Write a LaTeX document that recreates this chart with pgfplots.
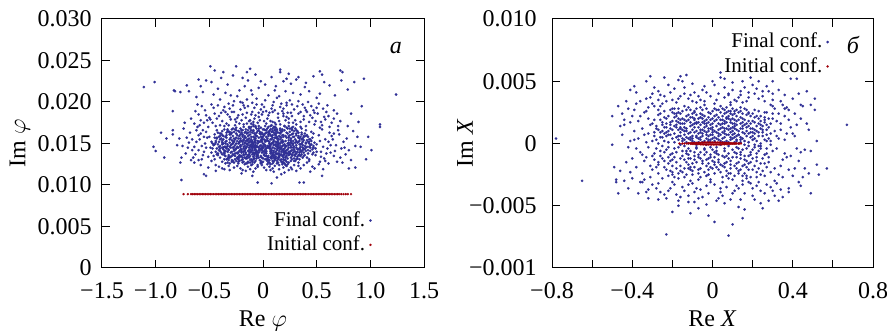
\documentclass[border=0pt]{standalone}
\usepackage{pgfplots}
\pgfplotsset{compat=1.18}
\usepackage{pgfplotstable}
\usepackage{fontspec}
\setmainfont{Liberation Serif}
\definecolor{fblue}{RGB}{48,48,150}
\definecolor{ired}{RGB}{160,0,10}

\pgfplotstableread[header=false]{
-0.12 0.0148
0.05 0.0153
0.21 0.0139
-0.31 0.0161
0.34 0.0144
-0.04 0.0171
0.17 0.0157
-0.22 0.0135
0.09 0.0129
-0.41 0.0152
0.27 0.0166
-0.08 0.0142
0.42 0.0158
-0.17 0.0163
0.01 0.0137
0.13 0.0146
-0.28 0.0145
0.31 0.0131
-0.36 0.0138
0.06 0.0162
-0.01 0.0155
0.24 0.0151
-0.14 0.0128
0.38 0.0139
-0.25 0.0169
0.11 0.0175
-0.47 0.0144
0.19 0.0133
-0.06 0.0159
0.45 0.0149
-0.33 0.0127
0.02 0.0146
0.29 0.0158
-0.19 0.0152
0.15 0.0124
-0.09 0.0134
0.36 0.0163
-0.43 0.0166
0.08 0.0141
-0.27 0.0156
0.22 0.0147
-0.02 0.0126
0.49 0.0136
-0.15 0.0174
0.12 0.0160
-0.38 0.0149
0.33 0.0152
-0.11 0.0140
0.04 0.0168
0.26 0.0129
-0.21 0.0143
0.40 0.0145
-0.05 0.0150
0.18 0.0165
-0.30 0.0134
0.07 0.0133
-0.16 0.0157
0.35 0.0170
-0.45 0.0131
0.14 0.0154
-0.07 0.0145
0.23 0.0143
-0.24 0.0160
0.00 0.0158
0.30 0.0137
-0.35 0.0158
0.10 0.0149
-0.13 0.0137
0.44 0.0141
-0.20 0.0130
0.16 0.0136
-0.03 0.0164
0.28 0.0148
-0.40 0.0141
0.03 0.0131
-0.26 0.0148
0.37 0.0133
-0.10 0.0153
0.20 0.0171
-0.32 0.0172
0.12 0.0140
-0.18 0.0146
0.25 0.0160
-0.50 0.0158
0.06 0.0144
-0.23 0.0139
0.41 0.0154
-0.06 0.0132
0.17 0.0128
-0.37 0.0145
0.32 0.0143
-0.12 0.0161
0.09 0.0157
-0.29 0.0130
0.21 0.0153
-0.01 0.0143
0.47 0.0162
-0.15 0.0150
0.13 0.0167
-0.42 0.0136
0.02 0.0152
-0.20 0.0166
0.27 0.0135
-0.08 0.0127
0.39 0.0147
-0.34 0.0153
0.15 0.0150
-0.04 0.0139
0.23 0.0125
-0.27 0.0141
0.08 0.0172
-0.14 0.0155
0.34 0.0156
-0.46 0.0148
0.18 0.0142
-0.09 0.0166
0.05 0.0135
-0.39 0.0162
0.29 0.0141
-0.19 0.0133
0.11 0.0131
-0.02 0.0148
0.43 0.0131
-0.31 0.0146
0.20 0.0144
-0.11 0.0131
0.01 0.0160
-0.24 0.0153
0.36 0.0150
-0.05 0.0124
0.26 0.0154
-0.17 0.0142
0.14 0.0138
-0.36 0.0131
0.07 0.0155
-0.22 0.0159
0.31 0.0162
-0.13 0.0145
0.19 0.0127
-0.48 0.0139
0.03 0.0141
-0.07 0.0156
0.24 0.0136
-0.28 0.0152
0.46 0.0143
-0.16 0.0137
0.10 0.0163
-0.33 0.0140
0.16 0.0147
-0.01 0.0133
0.38 0.0159
-0.21 0.0148
0.06 0.0127
-0.43 0.0157
0.28 0.0145
-0.10 0.0144
0.12 0.0152
-0.26 0.0135
0.22 0.0163
-0.03 0.0152
0.33 0.0136
-0.38 0.0165
0.09 0.0136
-0.18 0.0128
0.40 0.0166
-0.12 0.0135
0.17 0.0145
-0.30 0.0157
0.04 0.0147
-0.23 0.0145
0.29 0.0132
-0.06 0.0168
0.14 0.0156
-0.41 0.0146
0.24 0.0140
-0.15 0.0132
0.00 0.0140
-0.35 0.0150
0.35 0.0146
-0.09 0.0138
0.19 0.0160
-0.25 0.0144
0.11 0.0144
-0.02 0.0161
0.44 0.0155
-0.32 0.0136
0.07 0.0149
-0.19 0.0161
0.27 0.0150
-0.07 0.0129
0.15 0.0133
-0.44 0.0153
0.31 0.0153
-0.13 0.0151
0.02 0.0135
-0.27 0.0164
0.21 0.0130
-0.04 0.0145
0.37 0.0142
-0.20 0.0139
0.10 0.0139
-0.37 0.0143
0.25 0.0149
-0.11 0.0158
0.05 0.0159
-0.29 0.0149
0.32 0.0140
-0.16 0.0153
0.13 0.0126
-0.01 0.0152
0.42 0.0138
-0.23 0.0131
0.18 0.0154
-0.08 0.0147
0.08 0.0164
-0.34 0.0144
0.26 0.0141
-0.14 0.0141
0.03 0.0144
-0.40 0.0159
0.20 0.0137
-0.05 0.0135
0.30 0.0155
-0.21 0.0154
0.16 0.0162
-0.10 0.0125
0.48 0.0151
-0.03 0.0147
0.18 0.0151
-0.24 0.0138
0.32 0.0165
-0.14 0.0159
0.07 0.0138
-0.37 0.0155
0.26 0.0133
-0.08 0.0162
0.13 0.0143
-0.29 0.0167
0.40 0.0150
-0.19 0.0127
0.02 0.0166
0.22 0.0157
-0.45 0.0161
0.10 0.0128
-0.11 0.0149
0.35 0.0135
-0.32 0.0142
0.05 0.0170
-0.22 0.0152
0.29 0.0146
-0.05 0.0136
0.16 0.0168
-0.40 0.0133
0.45 0.0164
-0.16 0.0144
0.08 0.0150
-0.27 0.0127
0.21 0.0124
-0.01 0.0158
0.37 0.0156
-0.34 0.0160
0.12 0.0134
-0.09 0.0173
0.27 0.0161
-0.21 0.0156
0.00 0.0132
0.43 0.0146
-0.43 0.0144
0.15 0.0159
-0.12 0.0130
0.24 0.0145
-0.30 0.0139
0.06 0.0152
-0.06 0.0141
0.33 0.0127
-0.18 0.0170
0.19 0.0139
-0.38 0.0128
0.03 0.0138
0.50 0.0140
-0.25 0.0150
0.11 0.0166
-0.02 0.0144
0.30 0.0168
-0.48 0.0152
0.17 0.0131
-0.13 0.0156
0.23 0.0168
-0.35 0.0135
0.09 0.0145
-0.07 0.0151
0.38 0.0144
-0.23 0.0165
0.14 0.0148
-0.15 0.0134
0.01 0.0149
-0.31 0.0151
0.28 0.0139
-0.10 0.0163
0.20 0.0149
-0.42 0.0149
0.46 0.0157
-0.17 0.0151
0.07 0.0125
-0.04 0.0157
0.34 0.0149
-0.26 0.0131
0.16 0.0130
-0.20 0.0143
0.04 0.0156
-0.36 0.0167
0.25 0.0164
-0.08 0.0136
0.12 0.0169
-0.29 0.0140
0.41 0.0133
-0.14 0.0166
0.21 0.0134
-0.01 0.0139
0.31 0.0145
-0.46 0.0135
0.10 0.0154
-0.22 0.0129
0.18 0.0160
-0.11 0.0146
0.39 0.0162
-0.33 0.0149
0.06 0.0130
-0.05 0.0165
0.27 0.0142
-0.18 0.0137
0.14 0.0163
-0.39 0.0139
0.02 0.0143
0.22 0.0138
-0.28 0.0159
0.35 0.0158
-0.09 0.0149
0.11 0.0136
-0.24 0.0146
0.47 0.0147
-0.02 0.0169
0.17 0.0152
-0.16 0.0126
0.29 0.0129
-0.34 0.0157
0.08 0.0159
-0.12 0.0143
0.24 0.0171
-0.44 0.0140
0.13 0.0129
-0.06 0.0147
0.36 0.0140
-0.21 0.0168
0.00 0.0150
0.19 0.0143
-0.31 0.0126
0.42 0.0152
-0.10 0.0137
0.09 0.0168
-0.26 0.0155
0.26 0.0156
-0.03 0.0130
0.15 0.0141
-0.37 0.0150
0.32 0.0134
-0.15 0.0162
0.05 0.0146
-0.19 0.0149
0.20 0.0126
-0.07 0.0160
0.44 0.0145
-0.41 0.0158
0.12 0.0147
-0.23 0.0134
0.28 0.0153
-0.13 0.0169
0.03 0.0163
-0.30 0.0145
0.17 0.0137
-0.01 0.0127
0.37 0.0148
-0.17 0.0147
0.07 0.0147
-0.25 0.0162
0.23 0.0132
-0.08 0.0155
0.13 0.0156
-0.35 0.0141
0.31 0.0166
-0.11 0.0152
0.01 0.0167
-0.47 0.0150
0.21 0.0159
-0.20 0.0135
0.10 0.0133
-0.04 0.0142
0.34 0.0131
-0.28 0.0168
0.16 0.0143
-0.14 0.0148
0.40 0.0159
-0.33 0.0132
0.04 0.0134
-0.09 0.0158
0.26 0.0147
-0.22 0.0141
0.18 0.0167
-0.02 0.0154
0.49 0.0144
-0.38 0.0137
0.11 0.0161
-0.16 0.0164
0.30 0.0151
-0.06 0.0137
0.08 0.0142
-0.27 0.0143
0.24 0.0127
-0.12 0.0127
0.14 0.0152
-0.42 0.0163
0.38 0.0154
-0.19 0.0158
0.02 0.0139
-0.31 0.0164
0.19 0.0131
-0.07 0.0139
0.45 0.0153
-0.24 0.0132
0.06 0.0165
-0.10 0.0147
0.33 0.0159
-0.36 0.0146
0.15 0.0145
-0.01 0.0146
0.27 0.0169
-0.17 0.0133
0.09 0.0151
-0.45 0.0157
0.22 0.0142
-0.13 0.0140
0.04 0.0129
-0.29 0.0154
0.35 0.0142
-0.05 0.0153
0.12 0.0132
-0.21 0.0161
0.29 0.0136
-0.40 0.0144
0.17 0.0164
-0.09 0.0131
0.01 0.0155
-0.26 0.0138
0.42 0.0142
-0.15 0.0154
0.20 0.0140
-0.03 0.0162
0.25 0.0137
-0.34 0.0163
0.07 0.0140
-0.18 0.0140
0.36 0.0137
-0.11 0.0170
0.13 0.0137
-0.23 0.0150
0.31 0.0148
-0.49 0.0145
0.05 0.0161
-0.07 0.0143
0.18 0.0135
-0.32 0.0130
0.23 0.0150
-0.14 0.0136
0.10 0.0170
-0.02 0.0135
0.39 0.0136
-0.20 0.0153
0.14 0.0133
-0.38 0.0153
0.28 0.0162
-0.10 0.0142
0.03 0.0153
-0.25 0.0129
0.47 0.0139
-0.06 0.0163
0.16 0.0155
-0.29 0.0135
0.21 0.0147
-0.16 0.0145
0.08 0.0135
-0.43 0.0137
0.33 0.0163
-0.01 0.0163
0.12 0.0157
-0.22 0.0136
0.26 0.0151
-0.12 0.0153
0.00 0.0145
-0.35 0.0146
0.37 0.0152
-0.08 0.0145
0.19 0.0148
-0.27 0.0152
0.09 0.0126
-0.04 0.0168
0.30 0.0140
-0.40 0.0155
0.15 0.0136
-0.18 0.0155
0.06 0.0150
-0.13 0.0133
0.43 0.0150
-0.30 0.0161
0.24 0.0154
0.02 0.0131
-0.21 0.0146
0.13 0.0158
-0.09 0.0139
0.34 0.0144
-0.37 0.0159
-0.06 0.0146
0.14 0.0149
-0.20 0.0141
0.28 0.0158
-0.12 0.0164
0.03 0.0135
-0.33 0.0147
0.22 0.0135
-0.01 0.0156
0.10 0.0141
-0.25 0.0166
0.37 0.0145
-0.15 0.0126
0.05 0.0163
0.19 0.0152
-0.39 0.0156
0.08 0.0132
-0.09 0.0150
0.31 0.0138
-0.28 0.0137
0.02 0.0171
-0.18 0.0154
0.26 0.0145
-0.04 0.0133
0.13 0.0165
-0.36 0.0139
0.41 0.0160
-0.13 0.0142
0.06 0.0148
-0.23 0.0128
0.18 0.0127
0.00 0.0161
0.34 0.0153
-0.30 0.0162
0.09 0.0137
-0.07 0.0170
0.24 0.0159
-0.17 0.0159
-0.02 0.0134
0.39 0.0143
-0.40 0.0147
0.12 0.0162
-0.10 0.0129
0.21 0.0146
-0.27 0.0136
0.04 0.0154
-0.05 0.0139
0.30 0.0129
-0.16 0.0167
0.17 0.0140
-0.34 0.0131
0.01 0.0136
0.46 0.0137
-0.22 0.0151
0.09 0.0165
-0.03 0.0143
0.27 0.0167
-0.44 0.0151
0.15 0.0134
-0.11 0.0155
0.20 0.0166
-0.32 0.0134
0.07 0.0144
-0.08 0.0152
0.35 0.0141
-0.20 0.0163
0.12 0.0149
-0.14 0.0135
0.00 0.0147
-0.28 0.0150
0.25 0.0138
-0.09 0.0165
0.18 0.0147
-0.38 0.0151
0.43 0.0155
-0.15 0.0149
0.05 0.0127
-0.02 0.0158
0.32 0.0151
-0.24 0.0133
0.14 0.0131
-0.18 0.0144
0.03 0.0158
-0.33 0.0165
0.23 0.0162
-0.06 0.0134
0.11 0.0167
-0.26 0.0142
0.38 0.0135
-0.12 0.0168
0.19 0.0136
0.01 0.0141
0.29 0.0143
-0.42 0.0138
0.08 0.0155
-0.19 0.0131
0.16 0.0158
-0.10 0.0146
0.36 0.0161
-0.30 0.0148
0.04 0.0131
-0.04 0.0166
0.25 0.0140
-0.16 0.0139
0.12 0.0164
-0.36 0.0141
-0.01 0.0142
0.20 0.0139
-0.25 0.0157
0.33 0.0157
-0.07 0.0148
0.10 0.0135
-0.21 0.0147
0.44 0.0148
0.00 0.0167
0.16 0.0150
-0.14 0.0127
0.27 0.0131
-0.31 0.0155
0.07 0.0160
-0.11 0.0141
0.22 0.0169
-0.41 0.0142
0.11 0.0130
-0.05 0.0146
0.34 0.0139
-0.19 0.0166
0.02 0.0148
0.17 0.0144
-0.29 0.0128
0.40 0.0151
-0.08 0.0138
0.07 0.0167
-0.23 0.0156
0.24 0.0157
-0.02 0.0129
0.13 0.0142
-0.35 0.0152
0.30 0.0135
-0.13 0.0160
0.04 0.0145
-0.17 0.0150
0.18 0.0128
-0.06 0.0159
0.41 0.0146
-0.38 0.0160
0.10 0.0148
-0.21 0.0135
0.26 0.0152
-0.11 0.0166
0.02 0.0162
-0.27 0.0146
0.15 0.0138
0.00 0.0128
0.35 0.0149
-0.15 0.0146
0.06 0.0146
-0.22 0.0164
0.21 0.0133
-0.07 0.0154
0.11 0.0157
-0.32 0.0143
0.29 0.0165
-0.10 0.0151
0.03 0.0166
-0.45 0.0149
0.19 0.0158
-0.18 0.0136
0.08 0.0134
-0.03 0.0141
0.32 0.0132
-0.26 0.0167
0.14 0.0144
-0.12 0.0147
0.38 0.0158
-0.31 0.0133
0.05 0.0133
-0.08 0.0157
0.24 0.0148
-0.20 0.0140
0.16 0.0166
-0.01 0.0153
0.47 0.0145
-0.36 0.0136
0.09 0.0160
-0.14 0.0163
0.28 0.0150
-0.05 0.0136
0.07 0.0141
-0.25 0.0144
0.22 0.0128
-0.10 0.0128
0.13 0.0151
-0.40 0.0162
0.36 0.0155
-0.17 0.0157
0.03 0.0140
-0.29 0.0163
0.20 0.0130
-0.06 0.0140
0.43 0.0152
-0.22 0.0133
0.05 0.0164
-0.09 0.0146
0.31 0.0160
-0.34 0.0145
0.14 0.0146
0.00 0.0145
0.25 0.0168
-0.16 0.0132
0.10 0.0152
-0.43 0.0156
0.21 0.0141
-0.12 0.0139
0.05 0.0130
-0.27 0.0153
0.33 0.0143
-0.04 0.0152
0.11 0.0133
-0.19 0.0160
0.27 0.0137
-0.38 0.0145
0.16 0.0163
-0.08 0.0132
0.02 0.0154
-0.24 0.0139
0.40 0.0141
-0.14 0.0153
0.19 0.0141
-0.02 0.0163
0.23 0.0138
-0.32 0.0164
0.08 0.0139
-0.17 0.0141
0.34 0.0136
-0.09 0.0171
0.12 0.0138
-0.52 0.0178
0.57 0.0182
-0.29 0.0188
0.08 0.0192
0.38 0.0179
-0.11 0.0185
0.22 0.0196
-0.44 0.0171
0.64 0.0175
-0.19 0.0199
0.14 0.0181
-0.60 0.0185
0.47 0.0190
-0.03 0.0178
0.31 0.0173
-0.36 0.0194
0.02 0.0202
0.53 0.0169
-0.25 0.0176
0.19 0.0186
-0.56 0.0166
0.42 0.0200
-0.08 0.0193
0.27 0.0183
-0.41 0.0183
0.11 0.0170
-0.16 0.0181
0.60 0.0196
-0.33 0.0167
0.35 0.0188
-0.64 0.0174
0.05 0.0184
-0.21 0.0191
0.49 0.0177
-0.48 0.0197
0.24 0.0175
-0.06 0.0204
0.69 0.0186
-0.13 0.0170
0.17 0.0198
-0.38 0.0177
0.40 0.0171
-0.27 0.0201
0.07 0.0177
-0.54 0.0190
0.56 0.0192
0.00 0.0188
-0.31 0.0182
0.29 0.0191
-0.09 0.0176
0.13 0.0205
-0.45 0.0186
0.44 0.0184
-0.18 0.0173
0.21 0.0178
-0.59 0.0172
0.62 0.0170
-0.01 0.0197
0.33 0.0201
-0.23 0.0184
0.09 0.0188
-0.50 0.0181
0.51 0.0186
-0.14 0.0195
0.36 0.0168
-0.35 0.0188
0.25 0.0202
-0.04 0.0182
0.16 0.0173
-0.67 0.0180
0.72 0.0177
-0.26 0.0172
0.03 0.0174
-0.40 0.0203
0.45 0.0195
-0.10 0.0188
0.28 0.0170
-0.57 0.0195
0.19 0.0192
-0.20 0.0178
0.58 0.0179
0.10 0.0200
-0.47 0.0175
0.39 0.0193
-0.07 0.0171
0.66 0.0190
-0.32 0.0198
0.23 0.0187
-0.15 0.0203
0.48 0.0173
-0.43 0.0180
0.26 0.0187
-0.17 0.0193
0.04 0.0180
0.54 0.0176
-0.30 0.0179
0.18 0.0189
-0.07 0.0184
0.41 0.0188
-0.51 0.0170
0.09 0.0196
-0.22 0.0174
0.32 0.0195
-0.37 0.0190
0.15 0.0177
-0.02 0.0191
0.59 0.0188
-0.12 0.0178
0.22 0.0182
-0.46 0.0193
0.46 0.0181
-0.28 0.0196
0.06 0.0187
-0.58 0.0178
0.35 0.0176
-0.15 0.0187
0.12 0.0173
-0.33 0.0185
0.50 0.0193
-0.05 0.0175
0.27 0.0197
-0.40 0.0172
0.01 0.0194
-0.24 0.0181
0.38 0.0183
-0.10 0.0199
0.61 0.0183
-0.53 0.0184
0.20 0.0171
-0.19 0.0185
0.30 0.0178
-0.34 0.0174
0.11 0.0190
-0.63 0.0189
0.43 0.0176
-0.08 0.0180
0.16 0.0194
-0.27 0.0188
0.55 0.0172
-0.01 0.0185
0.24 0.0180
-0.42 0.0196
0.07 0.0171
-0.13 0.0177
0.37 0.0197
-0.49 0.0179
0.14 0.0186
-0.21 0.0200
0.48 0.0187
-0.36 0.0171
0.03 0.0189
-0.06 0.0197
0.28 0.0175
0.66 0.0180
-0.55 0.0175
0.19 0.0183
-0.26 0.0179
0.40 0.0190
-0.11 0.0174
0.09 0.0176
-0.39 0.0187
0.33 0.0186
-0.18 0.0196
0.01 0.0177
0.52 0.0198
-0.31 0.0192
0.22 0.0199
-0.04 0.0187
-0.61 0.0197
0.70 0.0171
-0.46 0.0209
0.21 0.0213
-0.14 0.0226
0.39 0.0218
-0.33 0.0221
0.08 0.0230
0.53 0.0210
-0.58 0.0219
0.15 0.0207
-0.22 0.0214
0.31 0.0227
-0.04 0.0217
0.62 0.0220
-0.39 0.0229
0.26 0.0222
-0.62 0.0206
0.47 0.0231
-0.10 0.0209
0.02 0.0221
-0.28 0.0232
0.19 0.0225
-0.53 0.0226
0.57 0.0224
-0.17 0.0219
0.35 0.0209
-0.69 0.0213
0.11 0.0214
-0.35 0.0211
0.67 0.0208
-0.07 0.0233
0.24 0.0234
-0.48 0.0224
0.43 0.0213
-0.24 0.0207
0.05 0.0208
-0.71 0.0220
0.79 0.0215
-0.02 0.0225
0.28 0.0211
-0.42 0.0216
0.16 0.0236
-0.19 0.0229
0.50 0.0205
-0.56 0.0212
0.73 0.0226
-0.30 0.0208
0.12 0.0219
-0.11 0.0214
0.40 0.0223
-0.49 0.0243
-0.25 0.0243
-0.12 0.0240
0.16 0.0239
0.72 0.0238
0.74 0.0236
0.53 0.0237
-0.45 0.0238
-0.60 0.0227
0.22 0.0228
-0.37 0.0236
0.85 0.0224
-0.77 0.0212
0.55 0.0233
-0.15 0.0236
0.33 0.0230
-0.35 0.0126
0.19 0.0121
-0.12 0.0119
0.41 0.0127
-0.24 0.0123
0.07 0.0118
-0.48 0.0129
0.29 0.0124
-0.05 0.0122
0.14 0.0127
-0.31 0.0118
0.52 0.0125
-0.17 0.0125
0.01 0.0121
-0.41 0.0122
0.24 0.0118
-0.09 0.0116
0.35 0.0120
-0.58 0.0124
0.11 0.0123
-0.21 0.0120
0.46 0.0122
-0.02 0.0127
0.20 0.0115
-0.28 0.0129
0.04 0.0125
-0.55 0.0113
0.31 0.0117
-0.14 0.0122
0.56 0.0119
0.09 0.0120
-0.38 0.0120
-0.05 0.0103
0.08 0.0102
0.34 0.0103
0.38 0.0103
-0.53 0.0111
0.55 0.0111
0.17 0.0113
-0.20 0.0114
0.26 0.0121
-0.64 0.0127
0.61 0.0126
-0.44 0.0117
0.44 0.0116
0.13 0.0109
-0.10 0.0111
-0.27 0.0121
0.15 0.0119
-0.07 0.0120
0.33 0.0123
-0.44 0.0124
0.03 0.0118
-0.16 0.0117
0.22 0.0123
-0.36 0.0119
0.48 0.0120
-0.01 0.0124
0.10 0.0116
-0.23 0.0126
0.38 0.0124
-0.51 0.0121
0.27 0.0119
-0.11 0.0124
0.06 0.0122
-0.32 0.0123
0.43 0.0129
0.18 0.0125
-0.19 0.0118
0.53 0.0128
-0.60 0.0130
-0.62 0.0152
0.63 0.0148
-0.55 0.0140
0.58 0.0155
-0.68 0.0163
0.71 0.0161
-0.57 0.0147
0.54 0.0140
-0.72 0.0138
0.66 0.0135
-0.60 0.0160
0.60 0.0144
-0.65 0.0133
0.75 0.0152
-0.53 0.0164
0.52 0.0160
-0.78 0.0156
0.80 0.0142
-0.70 0.0145
0.69 0.0128
-0.51 0.0134
0.57 0.0132
-0.59 0.0155
0.62 0.0163
-0.74 0.0168
0.84 0.0165
-0.66 0.0142
0.77 0.0137
-0.54 0.0150
0.50 0.0149
-0.80 0.0148
0.88 0.0158
-0.63 0.0137
0.73 0.0144
-0.69 0.0151
0.65 0.0155
-0.52 0.0157
0.55 0.0167
-0.76 0.0133
0.82 0.0130
-0.61 0.0170
0.79 0.0171
0.68 0.0148
0.59 0.0138
0.74 0.0127
-0.73 0.0175
0.86 0.0147
0.53 0.0153
-0.56 0.0136
0.61 0.0152
-0.64 0.0146
0.67 0.0141
-0.58 0.0162
0.56 0.0146
-0.71 0.0157
0.72 0.0133
-0.53 0.0145
0.64 0.0159
-0.67 0.0130
0.58 0.0129
-0.60 0.0142
0.70 0.0166
-0.75 0.0147
0.78 0.0156
-0.55 0.0158
0.54 0.0134
-0.62 0.0166
0.63 0.0139
-0.57 0.0131
0.76 0.0145
-0.66 0.0155
0.66 0.0162
-1.11 0.0218
-1.01 0.0224
1.24 0.0209
1.09 0.0173
1.09 0.0170
-1.02 0.0146
-1.00 0.0141
-0.95 0.0163
-0.92 0.0133
-0.84 0.0189
-0.83 0.0214
-0.82 0.0213
-0.84 0.0166
-0.84 0.0161
-0.77 0.0127
-0.76 0.0106
0.94 0.0228
0.92 0.0195
0.96 0.0131
0.98 0.0158
1.01 0.0142
0.91 0.0146
-0.90 0.0156
0.89 0.0176
0.82 0.0186
0.86 0.0121
0.80 0.0120
}\leftfinal

\pgfplotstableread[header=false]{
-0.740 0.0089
-0.700 0.0089
-0.670 0.0089
-0.655 0.0089
-0.640 0.0089
-0.625 0.0089
-0.610 0.0089
-0.595 0.0089
-0.580 0.0089
-0.565 0.0089
-0.550 0.0089
-0.535 0.0089
-0.520 0.0089
-0.505 0.0089
-0.490 0.0089
-0.475 0.0089
-0.460 0.0089
-0.445 0.0089
-0.430 0.0089
-0.415 0.0089
-0.400 0.0089
-0.385 0.0089
-0.370 0.0089
-0.355 0.0089
-0.340 0.0089
-0.325 0.0089
-0.310 0.0089
-0.295 0.0089
-0.280 0.0089
-0.265 0.0089
-0.250 0.0089
-0.235 0.0089
-0.220 0.0089
-0.205 0.0089
-0.190 0.0089
-0.175 0.0089
-0.160 0.0089
-0.145 0.0089
-0.130 0.0089
-0.115 0.0089
-0.100 0.0089
-0.085 0.0089
-0.070 0.0089
-0.055 0.0089
-0.040 0.0089
-0.025 0.0089
-0.010 0.0089
0.005 0.0089
0.020 0.0089
0.035 0.0089
0.050 0.0089
0.065 0.0089
0.080 0.0089
0.095 0.0089
0.110 0.0089
0.125 0.0089
0.140 0.0089
0.155 0.0089
0.170 0.0089
0.185 0.0089
0.200 0.0089
0.215 0.0089
0.230 0.0089
0.245 0.0089
0.260 0.0089
0.275 0.0089
0.290 0.0089
0.305 0.0089
0.320 0.0089
0.335 0.0089
0.350 0.0089
0.365 0.0089
0.380 0.0089
0.395 0.0089
0.410 0.0089
0.425 0.0089
0.440 0.0089
0.455 0.0089
0.470 0.0089
0.485 0.0089
0.500 0.0089
0.515 0.0089
0.530 0.0089
0.545 0.0089
0.560 0.0089
0.575 0.0089
0.590 0.0089
0.605 0.0089
0.620 0.0089
0.635 0.0089
0.650 0.0089
0.665 0.0089
0.680 0.0089
0.695 0.0089
0.710 0.0089
0.730 0.0089
0.750 0.0089
0.770 0.0089
0.790 0.0089
0.820 0.0089
}\leftinit

\pgfplotstableread[header=false]{
-0.05 0.0008
0.12 -0.0011
-0.18 0.0015
0.07 0.0021
-0.09 -0.0019
0.21 0.0004
-0.26 -0.0006
0.02 -0.0003
0.15 0.0017
-0.13 0.0027
0.28 -0.0015
-0.02 0.0012
0.09 -0.0024
-0.22 0.0001
0.18 0.0025
-0.07 -0.0009
0.04 0.0030
-0.16 -0.0022
0.25 0.0011
-0.11 0.0005
0.00 -0.0014
0.13 0.0007
-0.29 0.0019
0.06 -0.0006
-0.04 0.0022
0.22 -0.0027
-0.20 -0.0013
0.10 0.0013
-0.01 -0.0029
0.30 0.0020
-0.14 0.0010
0.05 0.0001
-0.24 0.0026
0.17 -0.0004
-0.08 0.0016
0.26 -0.0009
-0.17 -0.0028
0.01 0.0018
0.11 -0.0018
-0.27 -0.0017
0.19 0.0009
-0.03 -0.0001
0.08 0.0026
-0.12 -0.0012
0.23 0.0016
-0.21 0.0007
0.03 -0.0021
0.14 0.0029
-0.06 0.0003
-0.19 0.0021
0.27 0.0002
-0.10 -0.0025
0.06 0.0010
0.16 -0.0013
-0.25 -0.0002
-0.02 0.0025
0.20 -0.0021
-0.15 0.0004
0.09 0.0005
-0.28 0.0012
0.12 0.0022
-0.05 -0.0016
0.24 -0.0002
-0.09 0.0019
0.02 -0.0008
-0.18 -0.0007
0.18 0.0014
-0.01 0.0007
0.29 -0.0023
-0.23 -0.0021
0.07 -0.0015
-0.12 0.0023
0.15 -0.0030
-0.07 0.0001
0.04 0.0015
-0.30 -0.0010
0.21 0.0027
-0.16 0.0013
0.00 0.0020
0.10 -0.0005
-0.04 -0.0023
0.25 0.0006
-0.20 0.0028
0.13 0.0000
-0.11 -0.0006
0.06 0.0024
-0.26 0.0009
0.17 -0.0026
-0.08 -0.0003
0.03 0.0011
0.22 -0.0011
-0.13 -0.0015
0.00 0.0004
0.11 0.0019
-0.22 -0.0026
0.28 0.0013
-0.06 0.0029
0.08 -0.0012
-0.17 0.0006
0.19 -0.0007
-0.03 0.0014
0.14 0.0003
-0.27 0.0023
0.05 -0.0027
-0.10 0.0011
0.24 0.0022
-0.19 -0.0004
0.01 -0.0011
0.16 0.0008
-0.14 -0.0020
0.09 0.0031
-0.24 -0.0014
0.27 -0.0019
-0.05 0.0017
0.12 0.0002
-0.21 0.0017
0.04 -0.0017
-0.09 0.0025
0.20 0.0018
-0.15 -0.0010
0.07 0.0007
-0.01 -0.0019
0.23 -0.0006
-0.28 -0.0004
0.10 -0.0029
-0.07 0.0020
0.15 0.0012
-0.12 0.0000
0.02 0.0027
-0.18 0.0024
0.26 0.0017
-0.03 -0.0007
0.13 -0.0022
-0.23 0.0013
0.06 0.0016
-0.11 -0.0030
0.18 -0.0016
0.00 0.0009
-0.16 0.0019
0.21 -0.0001
-0.06 -0.0012
0.11 0.0026
-0.25 0.0005
0.08 -0.0002
-0.08 0.0006
0.29 0.0008
-0.20 -0.0018
0.03 -0.0013
0.17 0.0023
-0.13 0.0018
-0.02 -0.0025
0.14 -0.0009
-0.29 -0.0013
0.05 0.0019
0.24 -0.0025
-0.10 0.0002
0.09 0.0012
-0.04 0.0031
0.19 0.0005
-0.17 -0.0024
0.01 0.0002
-0.22 0.0010
0.12 -0.0020
-0.07 -0.0021
0.27 0.0025
0.07 0.0017
-0.14 0.0030
0.00 -0.0005
0.16 -0.0001
-0.26 0.0030
0.22 0.0010
0.03 0.0006
-0.08 -0.0004
0.14 0.0016
-0.16 0.0024
0.22 -0.0014
-0.03 -0.0018
0.09 0.0009
-0.21 -0.0009
0.01 0.0022
0.17 -0.0019
-0.11 0.0014
0.26 0.0003
-0.06 -0.0027
0.05 -0.0010
-0.25 0.0017
0.12 0.0027
-0.14 -0.0002
0.20 0.0012
-0.01 0.0001
0.07 -0.0022
-0.19 0.0008
0.29 0.0016
-0.09 0.0026
0.11 -0.0007
-0.27 -0.0024
0.15 0.0020
-0.04 0.0010
0.23 -0.0020
-0.12 -0.0017
0.00 0.0013
0.18 0.0001
-0.22 0.0022
0.08 -0.0028
-0.17 0.0003
0.27 -0.0004
-0.05 0.0020
0.13 -0.0015
-0.29 0.0006
0.04 0.0025
-0.13 -0.0008
0.21 0.0021
-0.02 -0.0012
0.10 0.0004
-0.24 -0.0019
0.16 -0.0024
-0.07 0.0013
0.25 0.0009
-0.18 -0.0015
0.06 0.0018
-0.10 -0.0022
0.19 -0.0009
-0.28 0.0014
0.02 -0.0006
-0.15 0.0026
0.28 -0.0011
-0.06 0.0005
0.12 0.0011
-0.20 0.0004
0.08 0.0020
-0.03 0.0028
0.23 0.0006
-0.12 0.0008
0.15 -0.0005
-0.26 -0.0010
0.01 -0.0024
-0.09 -0.0010
0.20 0.0024
-0.16 -0.0018
0.05 0.0004
0.30 -0.0006
-0.23 0.0020
0.09 -0.0017
-0.04 -0.0005
0.17 0.0006
-0.11 0.0021
0.24 -0.0016
-0.30 0.0002
0.03 0.0016
-0.14 0.0007
0.11 -0.0026
-0.01 0.0024
0.26 0.0021
-0.19 -0.0027
0.07 0.0002
-0.08 0.0017
0.14 -0.0012
-0.25 0.0010
0.00 -0.0020
0.21 -0.0003
-0.17 0.0011
0.10 0.0023
-0.05 -0.0014
0.28 0.0004
-0.21 0.0015
0.06 -0.0019
-0.13 -0.0025
0.18 0.0018
-0.02 0.0003
0.13 0.0010
-0.27 0.0027
0.04 -0.0001
-0.10 0.0006
0.22 0.0014
-0.15 -0.0006
0.08 0.0014
-0.07 -0.0029
0.16 0.0028
-0.23 -0.0005
0.02 0.0009
-0.18 0.0018
0.25 -0.0022
-0.04 0.0016
0.11 0.0001
-0.12 0.0029
0.19 -0.0027
-0.29 -0.0008
0.05 0.0028
-0.09 0.0001
0.15 0.0024
-0.20 0.0025
0.27 0.0011
-0.06 -0.0007
0.09 0.0017
-0.14 0.0016
0.03 -0.0015
-0.24 0.0002
0.20 -0.0012
-0.01 -0.0009
0.12 -0.0003
-0.16 0.0009
0.31 0.0010
-0.11 -0.0019
0.06 0.0008
-0.26 0.0024
0.23 0.0026
-0.03 0.0019
0.14 0.0005
-0.19 -0.0011
0.00 0.0016
0.17 -0.0028
-0.08 0.0023
0.10 -0.0011
-0.22 -0.0016
0.29 -0.0001
-0.05 0.0011
0.07 0.0029
-0.13 0.0001
0.18 -0.0010
-0.28 -0.0019
0.04 0.0012
-0.17 0.0028
0.24 0.0015
-0.02 -0.0016
0.13 0.0019
-0.10 0.0015
0.01 0.0005
-0.21 0.0012
0.21 0.0008
-0.07 0.0008
0.11 0.0016
-0.15 0.0020
0.16 0.0002
-0.25 -0.0028
0.08 -0.0008
-0.04 0.0002
0.26 -0.0026
-0.18 0.0005
0.05 0.0013
-0.12 -0.0004
0.19 0.0022
-0.01 -0.0003
0.30 0.0024
-0.23 0.0009
0.09 0.0024
-0.06 0.0024
0.14 -0.0021
-0.30 0.0016
0.02 0.0019
-0.14 -0.0013
0.22 -0.0008
-0.09 0.0009
0.12 0.0006
-0.20 -0.0023
0.06 -0.0011
-0.03 0.0007
0.17 0.0013
-0.27 0.0000
0.27 0.0007
-0.11 0.0003
0.03 0.0021
-0.16 0.0016
0.20 0.0003
-0.08 -0.0015
0.10 0.0010
-0.24 0.0021
0.15 0.0009
-0.02 0.0017
0.24 0.0000
-0.19 0.0024
0.07 0.0012
-0.13 0.0012
0.01 -0.0017
-0.02 0.0010
0.06 -0.0004
-0.13 0.0005
0.11 0.0008
-0.07 -0.0011
0.16 -0.0017
-0.20 0.0011
0.01 -0.0015
0.09 0.0019
-0.11 -0.0021
0.19 0.0012
-0.04 0.0018
0.03 0.0003
-0.17 -0.0003
0.23 -0.0002
-0.09 0.0013
0.13 -0.0024
-0.25 0.0015
0.05 0.0022
-0.01 -0.0011
0.17 0.0010
-0.15 0.0016
0.08 0.0001
-0.06 -0.0020
0.21 -0.0018
-0.22 -0.0011
0.00 0.0026
0.12 0.0015
-0.10 0.0004
0.26 0.0019
-0.18 0.0022
0.04 -0.0023
-0.03 0.0004
0.14 0.0021
-0.12 0.0019
0.07 -0.0010
-0.24 -0.0007
0.18 -0.0021
-0.05 0.0027
0.10 0.0028
-0.14 -0.0027
0.02 0.0014
-0.08 0.0010
0.22 0.0022
-0.19 0.0001
0.15 0.0004
-0.02 -0.0021
0.06 0.0012
-0.16 -0.0012
0.25 -0.0012
-0.11 0.0027
0.09 -0.0020
-0.27 0.0011
0.01 0.0010
-0.06 0.0015
0.18 0.0008
-0.21 -0.0022
0.13 0.0025
-0.03 -0.0026
0.04 0.0007
-0.13 0.0022
0.20 -0.0005
-0.09 -0.0007
0.11 0.0012
-0.23 0.0006
0.07 0.0025
-0.01 0.0019
0.16 0.0015
-0.17 0.0020
0.27 -0.0008
-0.07 0.0004
0.03 -0.0009
-0.14 0.0003
0.12 -0.0016
-0.04 -0.0004
0.22 0.0002
-0.26 0.0019
0.08 0.0007
-0.10 -0.0016
0.17 0.0027
-0.20 0.0018
0.00 0.0011
0.14 -0.0007
-0.08 0.0028
0.05 -0.0018
-0.16 0.0006
0.24 0.0012
-0.05 0.0001
0.10 0.0020
-0.22 -0.0003
0.19 -0.0015
-0.12 -0.0009
0.02 0.0023
-0.28 0.0003
0.15 0.0014
-0.03 0.0009
0.06 0.0001
-0.18 -0.0020
0.28 0.0020
-0.09 0.0016
0.13 -0.0004
-0.01 0.0015
0.09 0.0003
-0.15 -0.0023
0.21 0.0017
-0.06 0.0021
0.04 0.0019
-0.24 0.0013
0.16 -0.0010
-0.11 0.0009
0.01 -0.0007
0.23 0.0009
-0.19 0.0014
0.11 0.0005
-0.07 -0.0024
0.07 0.0020
-0.13 0.0010
0.18 0.0024
-0.02 0.0006
0.26 -0.0016
-0.21 0.0027
0.03 0.0027
-0.10 0.0021
0.12 -0.0008
-0.16 -0.0001
0.20 0.0006
-0.04 0.0013
0.08 -0.0024
-0.25 -0.0012
0.14 0.0012
-0.08 -0.0001
0.05 0.0009
-0.17 0.0025
0.29 0.0002
-0.12 0.0004
0.10 0.0016
-0.02 0.0021
0.17 -0.0014
-0.20 -0.0008
0.02 0.0004
-0.06 0.0009
0.24 0.0018
-0.14 0.0013
0.06 0.0027
-0.27 -0.0015
0.15 -0.0018
-0.01 0.0012
0.11 0.0024
-0.09 -0.0013
0.19 0.0016
-0.23 0.0016
0.04 0.0002
-0.11 0.0017
0.22 -0.0023
-0.05 0.0023
0.08 0.0011
-0.18 0.0013
0.13 0.0007
-0.03 -0.0013
0.25 0.0014
-0.15 0.0011
0.00 0.0007
0.16 0.0019
-0.07 0.0017
0.09 -0.0014
-0.22 0.0007
0.12 0.0018
-0.12 -0.0020
0.06 -0.0016
-0.19 0.0028
0.21 0.0011
-0.04 -0.0009
0.14 0.0026
-0.29 0.0009
0.03 0.0008
-0.08 0.0005
0.18 -0.0002
-0.16 0.0012
0.07 -0.0026
-0.01 0.0003
0.23 0.0020
-0.13 -0.0006
0.10 0.0007
-0.24 0.0008
0.27 0.0015
-0.06 0.0011
0.05 0.0016
-0.10 0.0024
0.15 -0.0026
-0.20 -0.0025
0.01 0.0028
0.12 0.0003
-0.03 0.0016
0.20 0.0009
-0.15 0.0002
0.08 0.0022
-0.26 0.0005
0.17 0.0016
-0.09 0.0020
0.02 -0.0019
-0.14 0.0019
0.24 -0.0004
-0.05 0.0006
0.11 0.0014
-0.21 -0.0014
0.06 0.0005
-0.17 0.0017
0.14 0.0001
-0.02 0.0002
0.26 0.0025
-0.11 -0.0012
0.09 0.0026
-0.35 0.0012
0.36 -0.0008
-0.38 -0.0019
0.33 0.0024
-0.32 0.0029
0.41 0.0006
-0.42 -0.0003
0.38 -0.0021
-0.34 0.0007
0.34 0.0016
-0.40 0.0022
0.43 -0.0014
-0.31 -0.0027
0.31 -0.0030
-0.37 0.0004
0.39 0.0013
-0.33 -0.0011
0.35 0.0031
-0.44 0.0015
0.32 -0.0004
-0.36 -0.0031
0.44 0.0020
-0.39 0.0027
0.40 -0.0026
-0.32 0.0020
0.34 -0.0018
-0.36 -0.0007
0.37 0.0008
-0.34 0.0025
0.33 -0.0025
-0.39 0.0010
0.42 0.0015
-0.31 -0.0018
0.36 0.0022
-0.41 0.0002
0.39 -0.0010
-0.35 -0.0024
0.32 0.0006
-0.37 0.0018
0.41 -0.0020
-0.33 0.0001
0.35 -0.0013
-0.43 -0.0015
0.38 0.0027
-0.38 0.0032
0.31 0.0028
-0.40 -0.0028
0.44 -0.0007
-0.32 -0.0003
0.36 0.0003
-0.32 0.0008
0.33 0.0004
-0.30 -0.0021
0.32 0.0018
-0.34 -0.0014
0.35 -0.0027
-0.31 0.0015
0.31 -0.0020
-0.36 0.0022
0.34 0.0011
-0.38 -0.0004
0.37 -0.0011
-0.33 0.0026
0.40 0.0008
-0.35 -0.0009
0.38 0.0019
-0.30 0.0032
0.32 -0.0032
-0.39 0.0003
0.42 -0.0004
-0.34 -0.0029
0.36 0.0028
-0.41 0.0017
0.30 0.0030
-0.12 0.0036
0.08 0.0039
-0.21 0.0041
0.17 0.0034
-0.05 0.0043
0.25 0.0038
-0.27 0.0035
0.02 0.0035
-0.15 -0.0035
0.11 -0.0038
-0.24 -0.0041
0.20 -0.0036
-0.03 -0.0034
0.27 -0.0033
-0.09 -0.0039
0.05 -0.0042
0.14 0.0042
-0.18 0.0033
0.30 0.0035
-0.01 0.0038
0.12 -0.0034
-0.28 -0.0036
0.22 0.0044
-0.07 -0.0044
0.09 0.0033
-0.20 -0.0031
0.34 -0.0037
-0.33 0.0036
0.16 -0.0040
-0.11 0.0039
0.29 0.0031
-0.06 0.0035
0.04 -0.0036
-0.30 0.0040
0.37 0.0029
-0.41 -0.0023
0.19 -0.0032
-0.14 0.0045
0.06 0.0045
-0.25 0.0032
-0.23 0.0034
0.13 0.0037
-0.09 0.0041
0.21 0.0040
-0.31 0.0037
0.03 0.0040
-0.16 0.0038
0.26 0.0034
-0.04 0.0034
0.10 0.0043
-0.27 0.0042
0.18 0.0037
-0.12 -0.0033
0.07 -0.0035
-0.21 -0.0036
0.24 -0.0038
-0.02 -0.0040
0.15 -0.0033
-0.30 -0.0033
0.01 -0.0033
-0.18 -0.0041
0.29 -0.0035
-0.08 -0.0036
0.09 -0.0045
-0.26 -0.0039
0.20 -0.0042
-0.14 -0.0038
0.12 0.0034
-0.19 0.0044
0.30 0.0040
-0.07 0.0038
0.16 0.0045
0.04 -0.0039
-0.05 -0.0043
0.23 -0.0031
0.34 0.0034
-0.36 0.0034
0.14 -0.0045
-0.10 0.0034
-0.23 -0.0044
0.40 0.0036
-0.42 -0.0036
0.45 -0.0027
-0.45 0.0024
0.27 0.0046
-0.15 0.0050
0.00 0.0050
0.13 -0.0051
-0.11 -0.0056
0.35 -0.0043
-0.39 0.0046
0.49 0.0031
-0.49 -0.0019
0.49 -0.0040
-0.33 0.0050
0.19 0.0053
-0.02 -0.0058
0.25 -0.0052
-0.13 0.0055
0.04 0.0053
-0.20 0.0035
0.11 0.0035
-0.08 0.0033
0.23 0.0036
-0.29 0.0030
0.01 0.0032
-0.14 0.0040
0.18 0.0041
-0.03 0.0041
0.06 0.0037
-0.24 0.0038
0.15 0.0033
-0.10 -0.0032
0.05 -0.0031
-0.19 -0.0033
0.22 -0.0034
-0.06 -0.0037
0.13 -0.0036
-0.27 -0.0032
0.03 -0.0044
-0.16 -0.0043
0.26 -0.0040
-0.01 -0.0031
0.10 -0.0040
-0.22 -0.0038
0.18 -0.0031
-0.12 -0.0042
0.08 0.0040
-0.17 0.0036
0.25 0.0042
-0.04 0.0046
0.14 0.0039
0.02 -0.0046
-0.09 -0.0047
0.21 -0.0045
0.30 -0.0038
-0.32 -0.0037
0.44 0.0031
-0.44 -0.0030
0.43 0.0040
-0.47 0.0030
0.46 -0.0020
0.67 0.0015
-0.65 -0.0030
-0.78 0.0004
-0.50 0.0022
-0.50 -0.0001
-0.47 -0.0040
-0.48 -0.0029
-0.48 -0.0031
-0.46 -0.0022
-0.46 0.0014
-0.44 0.0019
-0.43 0.0034
-0.41 0.0043
-0.31 0.0054
-0.24 0.0053
-0.17 0.0051
-0.16 0.0054
0.04 0.0057
0.06 0.0052
0.15 0.0050
0.23 0.0050
0.30 0.0050
0.39 0.0052
0.42 0.0052
0.47 0.0042
0.51 0.0036
0.51 0.0027
0.52 0.0002
0.49 -0.0006
0.48 0.0011
0.52 -0.0017
0.53 -0.0025
0.57 -0.0020
0.48 -0.0024
0.43 -0.0031
0.38 -0.0036
0.38 -0.0039
0.33 -0.0046
0.28 -0.0046
0.16 -0.0053
0.15 -0.0060
0.10 -0.0065
0.08 -0.0074
0.01 -0.0063
-0.23 -0.0073
-0.20 -0.0055
-0.17 -0.0046
-0.17 -0.0050
-0.27 -0.0045
-0.32 -0.0044
-0.33 -0.0039
-0.35 -0.0031
-0.38 0.0041
-0.29 0.0045
-0.10 0.0048
0.01 0.0047
0.20 0.0047
0.33 0.0043
0.45 0.0030
0.46 -0.0005
0.44 -0.0034
0.24 -0.0048
-0.03 -0.0049
-0.12 -0.0047
-0.37 -0.0040
-0.45 0.0007
-0.42 0.0028
0.28 0.0042
-0.22 0.0047
0.10 0.0049
0.36 0.0039
0.41 0.0024
0.47 0.0016
-0.40 -0.0012
0.06 -0.0048
-0.07 -0.0052
0.31 -0.0042
-0.26 0.0039
}\rightfinal

\pgfplotstableread[header=false]{
-0.165 0.00000
-0.150 0.00000
-0.140 0.00000
-0.128 0.00000
-0.120 0.00002
-0.112 0.00003
-0.108 -0.00003
-0.104 0.00003
-0.100 -0.00003
-0.096 0.00004
-0.092 -0.00004
-0.088 0.00004
-0.084 -0.00004
-0.080 0.00005
-0.076 -0.00005
-0.072 0.00005
-0.068 -0.00005
-0.064 0.00006
-0.060 -0.00006
-0.056 0.00007
-0.052 -0.00007
-0.048 0.00007
-0.044 -0.00007
-0.040 0.00008
-0.036 -0.00008
-0.032 0.00008
-0.028 -0.00008
-0.024 0.00008
-0.020 -0.00008
-0.016 0.00008
-0.012 -0.00008
-0.008 0.00008
-0.004 -0.00008
0.000 0.00008
0.004 -0.00008
0.008 0.00008
0.012 -0.00008
0.016 0.00008
0.020 -0.00008
0.024 0.00008
0.028 -0.00008
0.032 0.00008
0.036 -0.00007
0.040 0.00007
0.044 -0.00007
0.048 0.00007
0.052 -0.00006
0.056 0.00006
0.060 -0.00006
0.064 0.00005
0.068 -0.00005
0.072 0.00005
0.076 -0.00004
0.080 0.00004
0.084 -0.00004
0.088 0.00003
0.092 -0.00003
0.096 0.00003
0.100 -0.00002
0.104 0.00002
0.108 -0.00002
0.112 0.00001
0.116 -0.00001
0.120 0.00001
0.128 0.00000
0.135 0.00000
0.142 0.00000
}\rightinit

\pgfplotsset{
  panel/.style={
    scale only axis,
    height=124.5pt,
    tick align=inside,
    major tick length=4pt,
    minor tick num=0,
    scaled x ticks=false,
    scaled y ticks=false,
    axis line style={line width=0.5pt},
    every tick/.style={line width=0.5pt, black},
    tick label style={font=\fontsize{12}{14}\selectfont},
    label style={font=\fontsize{12}{14}\selectfont},
    xticklabel style={yshift=-3pt},
    yticklabel style={xshift=-1pt},
    legend cell align=right,
    legend plot pos=right,
    legend style={draw=none, fill=none, row sep=-1pt, inner sep=1pt,
      font=\fontsize{10.5}{12.5}\selectfont},
    legend image code/.code={\draw[##1] plot coordinates {(0.12cm,0cm)};},
  },
  fin/.style={only marks, mark=*, mark size=0.62pt, fblue, mark options={line width=0.1pt}},
  ini/.style={only marks, mark=*, mark size=0.55pt, ired, mark options={line width=0.1pt}},
}

\begin{document}
\fontsize{12}{14}\selectfont
\begin{tikzpicture}
\useasboundingbox (-51pt,-31.5pt) rectangle (392.5pt,134pt);
\begin{axis}[panel,
  at={(0pt,0pt)}, anchor=south west,
  width=161pt,
  xmin=-1.5, xmax=1.5, ymin=0, ymax=0.030,
  xtick={-1.5,-1,-0.5,0,0.5,1,1.5},
  xticklabels={−1.5,−1.0,−0.5,0,0.5,1.0,1.5},
  ytick={0,0.005,0.010,0.015,0.020,0.025,0.030},
  yticklabels={0,0.005,0.010,0.015,0.020,0.025,0.030},
  xlabel={Re $\varphi$}, ylabel={Im $\varphi$},
  xlabel style={at={(rel axis cs:0.5,-0.233)}, anchor=base},
  ylabel style={at={(rel axis cs:-0.255,0.5)}, anchor=center},
  legend style={at={(rel axis cs:0.845,0.03)}, anchor=south east},
]
\addplot[fin] table[x index=0, y index=1] {\leftfinal};
\addlegendentry{Final conf.}
\addplot[ini] table[x index=0, y index=1] {\leftinit};
\addlegendentry{Initial conf.}
\node[anchor=base] at (rel axis cs:0.913,0.863) {\textit{а}};
\end{axis}
\begin{axis}[panel,
  at={(225pt,0pt)}, anchor=south west,
  width=160.5pt,
  xmin=-0.8, xmax=0.8, ymin=-0.010, ymax=0.010,
  xtick={-0.8,-0.6,-0.4,-0.2,0,0.2,0.4,0.6,0.8},
  xticklabels={−0.8,{},−0.4,{},0,{},0.4,{},0.8},
  ytick={-0.010,-0.005,0,0.005,0.010},
  yticklabels={−0.001,−0.005,0,0.005,0.010},
  yticklabel style={xshift=-2.5pt},
  xlabel={Re \textit{X}}, ylabel={Im \textit{X}},
  xlabel style={at={(rel axis cs:0.5,-0.233)}, anchor=base},
  ylabel style={at={(rel axis cs:-0.271,0.5)}, anchor=center},
  legend style={at={(rel axis cs:0.87,0.97)}, anchor=north east},
]
\addplot[fin] table[x index=0, y index=1] {\rightfinal};
\addlegendentry{Final conf.}
\addplot[ini] table[x index=0, y index=1] {\rightinit};
\addlegendentry{Initial conf.}
\node[anchor=base] at (rel axis cs:0.938,0.863) {\textit{б}};
\end{axis}
\end{tikzpicture}
\end{document}
